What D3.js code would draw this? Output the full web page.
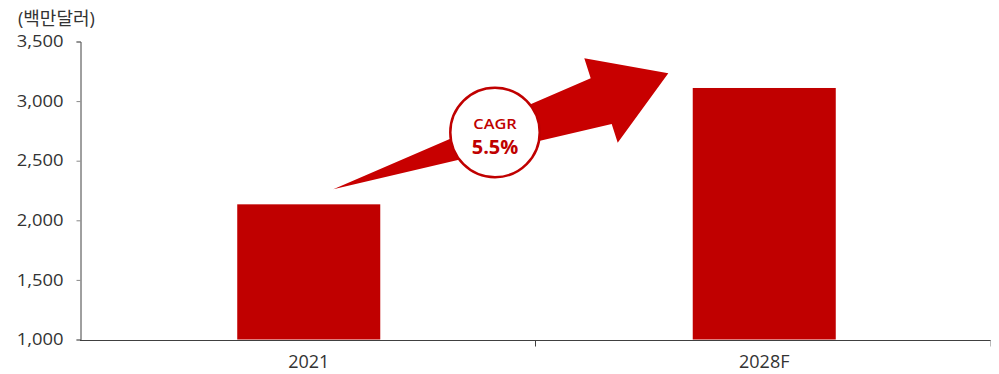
<!DOCTYPE html>
<html>
<head>
<meta charset="utf-8">
<script src="https://cdn.jsdelivr.net/npm/d3@7"></script>
<style>
  html, body { margin: 0; padding: 0; background: #fff; }
  svg { display: block; }
  text { font-family: "Open Sans", "Noto Sans", "Noto Sans CJK KR", sans-serif; }
</style>
</head>
<body>
<div id="chart"></div>
<script>
// Market size, million USD
const categories = ["2021", "2028F"];
const values = [2134, 3110];
const yTicks = [1000, 1500, 2000, 2500, 3000, 3500];
const unitLabel = "(백만달러)";
const cagrLabel = "CAGR";
const cagrValue = "5.5%";

const W = 999, H = 374;
const margin = { left: 80, right: 8, top: 41.5, bottom: 34.5 };
const red = "#c00000";
const axisColor = "#404040";
const textColor = "#333";

const svg = d3.select("#chart").append("svg")
  .attr("width", W).attr("height", H);

const x = d3.scaleBand()
  .domain(categories)
  .range([margin.left, W - margin.right])
  .padding(0);

const y = d3.scaleLinear()
  .domain([1000, 3500])
  .range([H - margin.bottom, margin.top]);

const barW = x.bandwidth() * 0.314;
const barCx = (d) => x(d) + x.bandwidth() / 2 + 1;

// Bars
svg.append("g").selectAll("rect")
  .data(categories)
  .join("rect")
  .attr("x", (d) => barCx(d) - barW / 2)
  .attr("y", (d, i) => y(values[i]))
  .attr("width", barW)
  .attr("height", (d, i) => y(1000) - y(values[i]))
  .attr("fill", red);

// Y axis (labels drawn separately, slightly widened)
const yAxis = svg.append("g")
  .attr("transform", `translate(${margin.left + 0.5},0)`)
  .call(d3.axisLeft(y).tickValues(yTicks).tickFormat("").tickSize(4));
yAxis.select(".domain").attr("stroke", axisColor);
yAxis.selectAll(".tick line").attr("stroke", "#888");

const fmt = d3.format(",");
svg.append("g").selectAll("text")
  .data(yTicks)
  .join("text")
  .attr("transform", (d) => `translate(63.5,${y(d)}) scale(1.15,1)`)
  .attr("dy", "0.36em")
  .attr("text-anchor", "end")
  .attr("font-size", 16)
  .attr("fill", textColor)
  .text((d) => fmt(d));

// X axis: line with ticks at category boundaries, labels at centres
const xg = svg.append("g");
const baseY = Math.round(y(1000)) + 0.5;
xg.append("line")
  .attr("x1", margin.left).attr("x2", W - margin.right)
  .attr("y1", baseY).attr("y2", baseY)
  .attr("stroke", axisColor);
const bounds = categories.slice(1).map((c) => x(c)).concat([W - margin.right]);
xg.selectAll("line.tick")
  .data(bounds)
  .join("line")
  .attr("class", "tick")
  .attr("x1", (d) => Math.round(d) - 0.5).attr("x2", (d) => Math.round(d) - 0.5)
  .attr("y1", baseY).attr("y2", baseY + 6)
  .attr("stroke", (d, i) => i === bounds.length - 1 ? "#bbb" : axisColor);
xg.selectAll("text")
  .data(categories)
  .join("text")
  .attr("x", (d) => barCx(d))
  .attr("y", 368)
  .attr("text-anchor", "middle")
  .attr("font-size", 18)
  .attr("fill", textColor)
  .text((d) => d);

// Unit label
svg.append("text")
  .attr("x", 18).attr("y", 25)
  .attr("font-size", 18)
  .attr("fill", textColor)
  .attr("font-family", "'Noto Sans CJK KR', sans-serif")
  .text(unitLabel);

// Growth arrow
const arrowPts = [
  [333.3, 189.3],
  [611.7, 124.0],
  [617.7, 142.7],
  [668.3, 73.3],
  [584.3, 58.3],
  [590.7, 78.3]
];
svg.append("path")
  .attr("d", d3.line()(arrowPts) + "Z")
  .attr("fill", "#c80000");

// CAGR badge
const cx = 495, cy = 132.5;
svg.append("circle")
  .attr("cx", cx).attr("cy", cy).attr("r", 44.7)
  .attr("fill", "#fff")
  .attr("stroke", red)
  .attr("stroke-width", 2.5);
svg.append("text")
  .attr("transform", `translate(${cx},129) scale(1.2,1)`)
  .attr("text-anchor", "middle")
  .attr("font-size", 13.6)
  .attr("font-weight", 600)
  .attr("fill", red)
  .text(cagrLabel);
svg.append("text")
  .attr("x", cx).attr("y", 154.3)
  .attr("text-anchor", "middle")
  .attr("font-size", 20)
  .attr("font-weight", "bold")
  .attr("fill", red)
  .text(cagrValue);
</script>
</body>
</html>
